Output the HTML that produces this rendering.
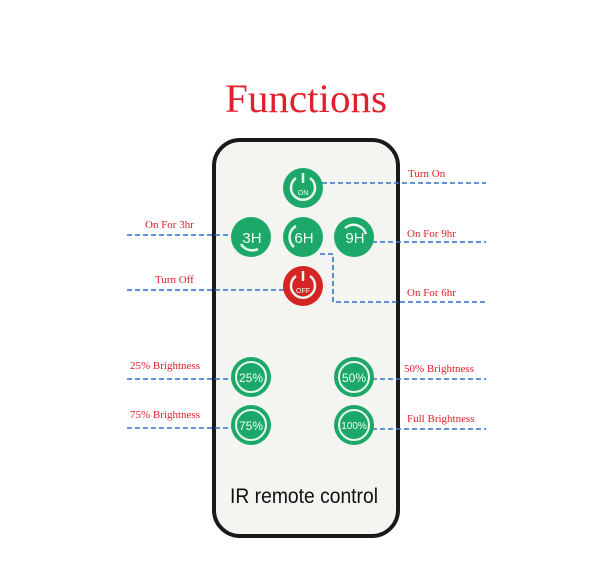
<!DOCTYPE html>
<html><head><meta charset="utf-8"><style>
html,body{margin:0;padding:0;background:#fff;}
svg{display:block}
</style></head><body>
<svg width="600" height="563" viewBox="0 0 600 563" xmlns="http://www.w3.org/2000/svg">
<rect width="600" height="563" fill="#fff"/>
<text x="306" y="112" text-anchor="middle" font-family="Liberation Serif, serif" font-size="40" fill="#e0202a" textLength="162" lengthAdjust="spacingAndGlyphs">Functions</text>
<rect x="214" y="140" width="184" height="396" rx="26" fill="#f4f4f1" stroke="#1a1a1a" stroke-width="4"/>
<g stroke="#2f6fd0" stroke-width="1.6" stroke-dasharray="5,3" fill="none">
<line x1="322" y1="183" x2="486" y2="183"/>
<line x1="127" y1="235" x2="234" y2="235"/>
<line x1="372" y1="242" x2="486" y2="242"/>
<line x1="127" y1="290" x2="285" y2="290"/>
<polyline points="320,254 333,254 333,302 486,302"/>
<line x1="127" y1="379" x2="234" y2="379"/>
<line x1="372" y1="379" x2="486" y2="379"/>
<line x1="127" y1="428" x2="234" y2="428"/>
<line x1="372" y1="429" x2="486" y2="429"/>
</g>
<g font-family="Liberation Serif, serif" font-size="11" fill="#e0202a">
<text x="408" y="177">Turn On</text>
<text x="145" y="228">On For 3hr</text>
<text x="407" y="237">On For 9hr</text>
<text x="155" y="283">Turn Off</text>
<text x="407" y="296">On For 6hr</text>
<text x="130" y="369">25% Brightness</text>
<text x="404" y="372">50% Brightness</text>
<text x="130" y="418">75% Brightness</text>
<text x="407" y="422">Full Brightness</text>
</g>
<g fill="#1ca868">
<circle cx="303" cy="188" r="20"/>
<circle cx="251" cy="237" r="20"/>
<circle cx="303" cy="237" r="20"/>
<circle cx="354" cy="237" r="20"/>
<circle cx="251" cy="377" r="20"/>
<circle cx="354" cy="377" r="20"/>
<circle cx="251" cy="425" r="20"/>
<circle cx="354" cy="425" r="20"/>
</g>
<circle cx="303" cy="286" r="20" fill="#d42424"/>
<g stroke="#e8f6ee" stroke-width="2.5" fill="none">
<path d="M296,178 A12,12 0 1 0 310,178"/>
<line x1="303" y1="173" x2="303" y2="183"/>
<path d="M296,276 A12,12 0 1 0 310,276"/>
<line x1="303" y1="271" x2="303" y2="281"/>
<path d="M241,244 A13,13 0 0 0 258,249"/>
<path d="M296,226 A13,13 0 0 0 294,247"/>
<path d="M345,228 A13,13 0 0 1 366,234"/>
<circle cx="251" cy="377" r="15" stroke-width="2"/>
<circle cx="354" cy="377" r="15" stroke-width="2"/>
<circle cx="251" cy="425" r="15" stroke-width="2"/>
<circle cx="354" cy="425" r="15" stroke-width="2"/>
</g>
<g font-family="Liberation Sans, sans-serif" fill="#f0fff6" text-anchor="middle">
<text x="303" y="195" font-size="7">ON</text>
<text x="303" y="293" font-size="7">OFF</text>
<text x="252" y="243" font-size="15">3H</text>
<text x="304" y="243" font-size="15">6H</text>
<text x="355" y="243" font-size="15">9H</text>
<text x="251" y="382" font-size="12">25%</text>
<text x="354" y="382" font-size="12">50%</text>
<text x="251" y="430" font-size="12">75%</text>
<text x="354" y="429" font-size="10">100%</text>
</g>
<text x="304" y="503" text-anchor="middle" font-family="Liberation Sans, sans-serif" font-size="21.5" fill="#111" textLength="148" lengthAdjust="spacingAndGlyphs">IR remote control</text>
</svg>
</body></html>
